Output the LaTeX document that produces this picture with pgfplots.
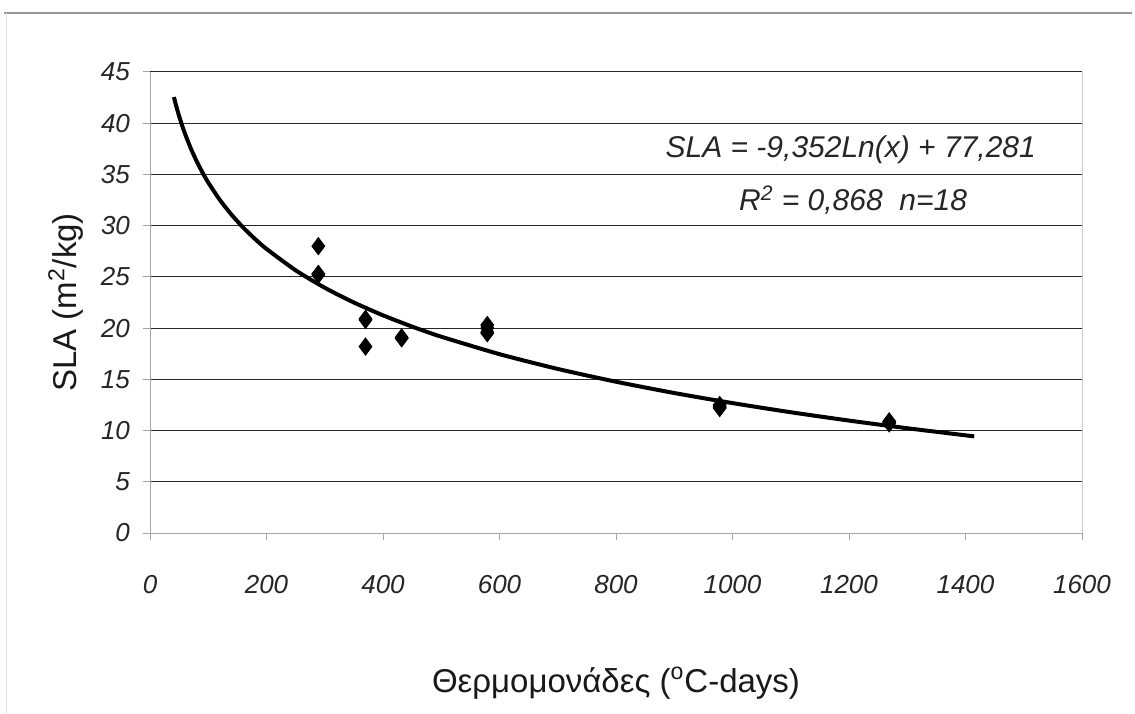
\documentclass[border=0pt]{standalone}
\usepackage{fontspec}
\setmainfont{Liberation Sans}
\usepackage{graphicx}
\usepackage{pgfplots}
\pgfplotsset{compat=1.18}
\begin{document}
\begin{tikzpicture}
\useasboundingbox (0,0) rectangle (567.5pt,356.5pt);
\fill[white] (0,0) rectangle (567.5pt,356.5pt);
\draw[gray!80, line width=0.6pt] (2pt,350pt) -- (566pt,350pt);
\draw[gray!25, line width=0.5pt] (3pt,0pt) -- (3pt,350pt);
\begin{axis}[
  at={(75pt,90pt)}, anchor=south west,
  scale only axis, width=466pt, height=230.5pt,
  xmin=0, xmax=1600, ymin=0, ymax=45,
  xtick={0,200,...,1600}, ytick={0,5,...,45},
  axis x line*=bottom, axis y line*=left,
  axis line style={gray!70, line width=0.5pt},
  tick align=outside, major tick length=3.5pt,
  tick style={gray!70, line width=0.5pt},
  ymajorgrids, grid style={black!85, line width=0.5pt},
  /pgf/number format/assume math mode=true,
  /pgf/number format/1000 sep={},
  xticklabel={\scalebox{1.3}{\textit{\pgfmathprintnumber{\tick}}}},
  yticklabel={\scalebox{1.3}{\textit{\pgfmathprintnumber{\tick}}}},
  tick label style={text=black!85},
  xticklabel style={yshift=-14pt},
  yticklabel style={xshift=-3pt},
  xlabel={Θερμομονάδες (\textsuperscript{o}C-days)},
  ylabel={SLA (m\textsuperscript{2}/kg)},
  every axis x label/.style={at={([yshift=-75pt]rel axis cs:0.5,0)}, anchor=center, font=\fontsize{16.5}{18}\selectfont, text=black!90},
  every axis y label/.style={at={([xshift=-42pt]rel axis cs:0,0.5)}, anchor=center, rotate=90, font=\fontsize{16.5}{18}\selectfont, text=black!90},
  clip=false,
]
\addplot[black, line width=2pt, smooth, tension=0.4] coordinates {
(41,42.552) (45,41.681) (50,40.696) (55,39.804) (60,38.991) (70,37.549) (80,36.300) (90,35.199)
(100,34.213) (120,32.508) (140,31.067) (160,29.818) (180,28.717) (200,27.731) (250,25.644)
(300,23.939) (350,22.498) (400,21.249) (450,20.147) (500,19.162) (600,17.457) (700,16.015)
(800,14.767) (900,13.665) (1000,12.680) (1100,11.788) (1200,10.975) (1300,10.226) (1415,9.433)
};
\addplot[only marks, mark=diamond*, mark size=4.3pt, black, mark options={fill=black}] coordinates {
(289,28.0) (289,25.3) (289,25.2)
(370,20.8) (370,20.9) (370,18.2)
(432,19.0) (432,19.1)
(579,20.3) (579,20.0) (579,19.6) (579,19.5)
(978,12.5) (978,12.3) (978,12.2)
(1269,10.9) (1269,10.8) (1269,10.7)
};
\draw[gray!40, line width=0.5pt] (rel axis cs:1,0) -- (rel axis cs:1,1);
\node[font=\fontsize{15}{17}\selectfont\itshape, text=black!85] at (axis cs:1203,37.4) {SLA = -9,352Ln(x) + 77,281};
\node[font=\fontsize{15}{17}\selectfont\itshape, text=black!85] at (axis cs:1207,32.5) {R\textsuperscript{2} = 0,868\ \ n=18};
\end{axis}
\end{tikzpicture}
\end{document}
